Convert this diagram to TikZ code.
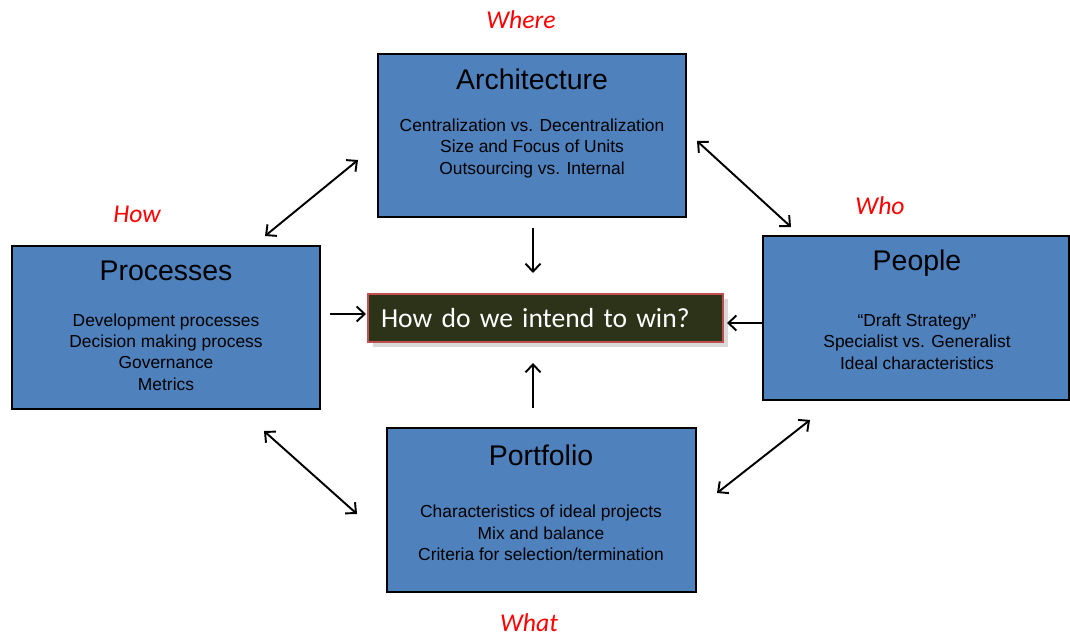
\documentclass[tikz,border=0pt]{standalone}
\usepackage{fontspec}
\setmainfont{Liberation Sans}
\newfontfamily\calibri{Carlito}
\usetikzlibrary{arrows.meta, shadows, positioning}

\definecolor{boxblue}{RGB}{79,129,189}
\definecolor{goalgreen}{RGB}{45,51,25}
\definecolor{goalred}{RGB}{192,80,77}

\begin{document}
\begin{tikzpicture}[->,>={Straight Barb[length=4.5pt,width=8.5pt]},line width=1.1pt,x=0.02cm,y=0.02cm]
	\tikzset{block/.style={draw=black, fill=boxblue, line width=1.1pt, minimum width=6.16cm, minimum height=3.26cm},
		heading/.style={font=\fontsize{16.2}{19}\selectfont},
		items/.style={align=center, font=\fontsize{9.9}{12.2}\selectfont},
		tag/.style={text=red, font=\calibri\itshape\fontsize{14.6}{17}\selectfont},
		goal/.style={draw=goalred, fill=goalgreen, line width=1.1pt, text=white,
			drop shadow={opacity=0.3, shadow xshift=0.5ex, shadow yshift=-0.5ex},
			font=\calibri\fontsize{15.7}{19}\selectfont, inner xsep=0.26cm, text width=6.58cm,
			minimum height=0.96cm, align=left}}
	\useasboundingbox (0,0) rectangle (1070,638);

	% the four blocks
	\node[block] (arch) at (532,502.5) {};
	\node[block] (proc) at (166,310.5) {};
	\node[block, minimum width=6.12cm, minimum height=3.28cm] (people) at (916,320) {};
	\node[block, minimum width=6.18cm, minimum height=3.28cm] (port) at (541.5,128) {};
	\node[goal] (win) at (545.5,320) {How do we intend to win?};

	\node[heading] (archT) at (532,559) {Architecture};
	\node[items] (archL) at (532,489.5) {Centralization vs. Decentralization\\Size and Focus of Units\\Outsourcing vs. Internal};
	\node[heading] (procT) at (166,367) {Processes};
	\node[items] (procL) at (166,286) {Development processes\\Decision making process\\Governance\\Metrics};
	\node[heading] (peopleT) at (917,375) {People};
	\node[items] (peopleL) at (917,296.5) {``Draft Strategy''\\Specialist vs. Generalist\\Ideal characteristics};
	\node[heading] (portT) at (541,183) {Portfolio};
	\node[items] (portL) at (541,105) {Characteristics of ideal projects\\Mix and balance\\Criteria for selection/termination};

	% red labels
	\node[tag] (where) at (521,618) {Where};
	\node[tag] (how) at (137,424) {How};
	\node[tag] (who) at (880,432) {Who};
	\node[tag] (what) at (529,15) {What};

	% arrow ends
	\coordinate (ap1) at (358,478);
	\coordinate (ap2) at (265,402);
	\coordinate (ae1) at (697,497);
	\coordinate (ae2) at (791,411);
	\coordinate (pp1) at (264,207);
	\coordinate (pp2) at (357,124);
	\coordinate (pe1) at (717,145);
	\coordinate (pe2) at (810,218);
	\coordinate (dn1) at (533,410);
	\coordinate (dn2) at (533,365);
	\coordinate (up1) at (533,230);
	\coordinate (up2) at (533,275);
	\coordinate (lf1) at (330,324);
	\coordinate (lf2) at (366,324);
	\coordinate (rt1) at (762,315);
	\coordinate (rt2) at (727,315);

	\draw[<->] (ap1) -- (ap2);
	\draw[<->] (ae1) -- (ae2);
	\draw[<->] (pp1) -- (pp2);
	\draw[<->] (pe1) -- (pe2);
	\draw (dn1) -- (dn2);
	\draw (up1) -- (up2);
	\draw (lf1) -- (lf2);
	\draw (rt1) -- (rt2);
\end{tikzpicture}
\end{document}
